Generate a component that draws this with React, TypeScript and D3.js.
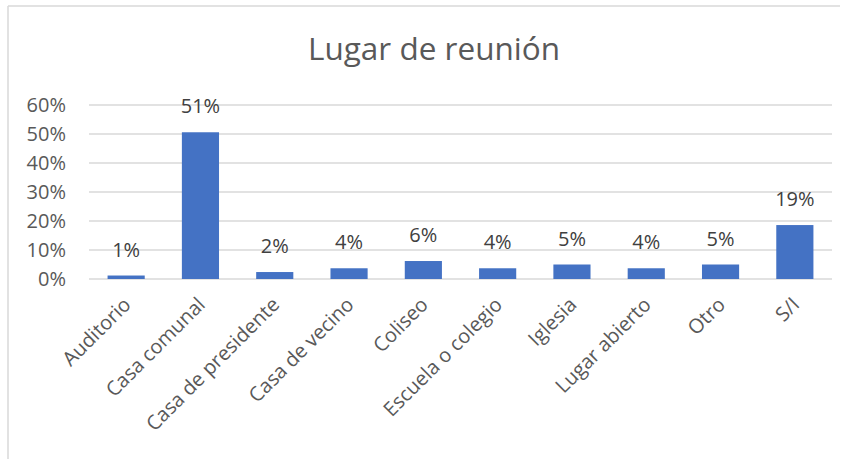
import React from "react";
import * as d3 from "d3";

const categories = [
  "Auditorio",
  "Casa comunal",
  "Casa de presidente",
  "Casa de vecino",
  "Coliseo",
  "Escuela o colegio",
  "Iglesia",
  "Lugar abierto",
  "Otro",
  "S/I",
];
const values = [0.012, 0.506, 0.024, 0.037, 0.062, 0.037, 0.05, 0.037, 0.05, 0.186];
const yTicks = [0, 0.1, 0.2, 0.3, 0.4, 0.5, 0.6];
const title = "Lugar de reunión";

const W = 850;
const H = 459;
const FONT = "'Open Sans', 'Segoe UI', sans-serif";
const TEXT = "#595959";

export default function App() {
  const x = d3.scaleBand<string>().domain(categories).range([89, 832]).paddingInner(0.5).paddingOuter(0.25);
  const y = d3.scaleLinear().domain([0, 0.6]).range([279, 105]);
  const fmt = d3.format(".0%");

  return (
    <svg width={W} height={H} style={{ position: "absolute", left: 0, top: 0, background: "#fff" }}>
      <rect x={0} y={0} width={W} height={H} fill="#fff" />
      {/* chart border (partially cropped) */}
      <line x1={8} x2={8} y1={6} y2={H} stroke="#d9d9d9" strokeWidth={1.5} />
      <line x1={8} x2={840} y1={6} y2={6} stroke="#d9d9d9" strokeWidth={1.5} />
      <text x={434} y={60} textAnchor="middle" fontFamily={FONT} fontSize={31.5} fill={TEXT}>
        {title}
      </text>
      {yTicks.map((t) => (
        <g key={t}>
          <line x1={89} x2={832} y1={y(t)} y2={y(t)} stroke="#d9d9d9" strokeWidth={1.5} />
          <text x={66} y={y(t)} dy="0.35em" textAnchor="end" fontFamily={FONT} fontSize={20} fill={TEXT}>
            {fmt(t)}
          </text>
        </g>
      ))}
      {categories.map((c, i) => (
        <g key={c}>
          <rect x={x(c)} y={y(values[i])} width={x.bandwidth()} height={y(0) - y(values[i])} fill="#4472c4" />
          <text
            x={(x(c) as number) + x.bandwidth() / 2}
            y={y(values[i]) - 19}
            textAnchor="middle"
            fontFamily={FONT}
            fontSize={20}
            fill="#404040"
          >
            {fmt(values[i])}
          </text>
          <text
            transform={`translate(${(x(c) as number) + x.bandwidth() / 2 - 4},${y(0) + 17}) rotate(-45)`}
            textAnchor="end"
            dy="0.7em"
            fontFamily={FONT}
            fontSize={20}
            fill={TEXT}
          >
            {c}
          </text>
        </g>
      ))}
    </svg>
  );
}
